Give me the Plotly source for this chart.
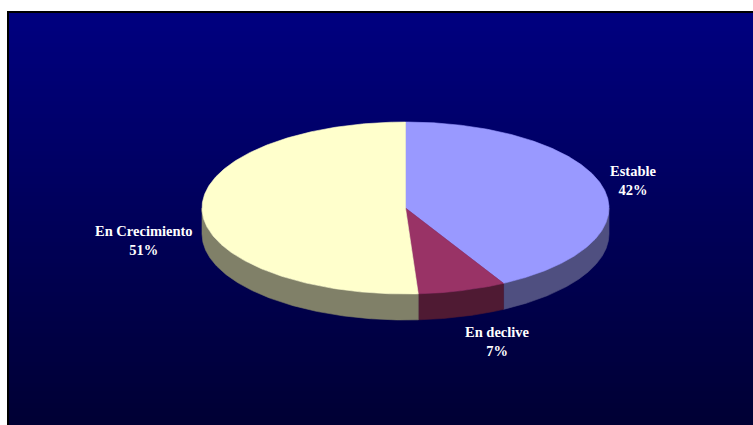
import numpy as np
import plotly.graph_objects as go

# Data
categories = ["Estable", "En declive", "En Crecimiento"]
values = [42, 7, 51]
top_colors = ["#9999FF", "#993366", "#FFFFCC"]
side_colors = ["#4F4F80", "#4F1A33", "#808068"]

# Canvas geometry (pixel-like data coordinates, y grows downward)
W, H = 753, 425
cx, cy = 405.5, 208.0     # centre of the top face
rx, ry = 203.5, 86.0      # ellipse radii of the tilted disc
depth = 26.0              # thickness of the disc

label_pos = {
    "Estable": (633, 180),
    "En declive": (497, 341),
    "En Crecimiento": (144, 240),
}

fig = go.Figure()

# Vertical navy gradient behind the chart
x0, y0 = 8, 12
n_rows = 100
y_edges = np.linspace(y0, H + 1, n_rows + 1)
z = np.linspace(0, 1, n_rows).reshape(-1, 1).repeat(2, axis=1)
fig.add_trace(go.Heatmap(
    x=[x0, (x0 + W) / 2, W + 1], y=y_edges, z=z,
    colorscale=[[0, "rgb(0,0,128)"], [1, "rgb(0,0,52)"]],
    showscale=False, hoverinfo="skip", zsmooth="fast",
))

total = sum(values)
fracs = [v / total for v in values]
bounds = np.concatenate([[0.0], np.cumsum(fracs)]) * 360.0  # clockwise from 12 o'clock


def ell(theta_deg, dy=0.0):
    t = np.radians(theta_deg)
    return cx + rx * np.sin(t), cy - ry * np.cos(t) + dy


# Outer walls (only the front half, 90..270 degrees, is visible)
for i, cat in enumerate(categories):
    a, b = bounds[i], bounds[i + 1]
    lo, hi = max(a, 90.0), min(b, 270.0)
    if hi <= lo:
        continue
    th = np.linspace(lo, hi, 200)
    xt, yt = ell(th)
    xb, yb = ell(th[::-1], depth)
    fig.add_trace(go.Scatter(
        x=np.concatenate([xt, xb, xt[:1]]),
        y=np.concatenate([yt, yb, yt[:1]]),
        mode="lines", fill="toself", fillcolor=side_colors[i],
        line=dict(color=side_colors[i], width=0.6),
        hoverinfo="skip", showlegend=False,
    ))

# Top faces
for i, cat in enumerate(categories):
    a, b = bounds[i], bounds[i + 1]
    th = np.linspace(a, b, 300)
    xs, ys = ell(th)
    fig.add_trace(go.Scatter(
        x=np.concatenate([[cx], xs, [cx]]),
        y=np.concatenate([[cy], ys, [cy]]),
        mode="lines", fill="toself", fillcolor=top_colors[i],
        line=dict(color=top_colors[i], width=0.6),
        hoverinfo="skip", showlegend=False,
    ))

# Labels with category and share
annotations = []
for i, cat in enumerate(categories):
    lx, ly = label_pos[cat]
    annotations.append(dict(
        x=lx, y=ly, xref="x", yref="y",
        text=f"<b>{cat}<br>{round(fracs[i] * 100)}%</b>",
        showarrow=False, align="center",
        font=dict(family="Liberation Serif, Times New Roman, serif", size=14.5, color="white"),
    ))

# Dark frame edge on the top and left of the panel
shapes = [dict(
    type="rect", xref="x", yref="y", layer="above",
    x0=x0, x1=W + 3, y0=y0, y1=H + 3,
    fillcolor="rgba(0,0,0,0)", line=dict(color="black", width=2),
)]

fig.update_layout(
    width=W, height=H,
    margin=dict(l=0, r=0, t=0, b=0),
    paper_bgcolor="white", plot_bgcolor="white",
    xaxis=dict(range=[0, W], visible=False, fixedrange=True),
    yaxis=dict(range=[H, 0], visible=False, fixedrange=True),
    shapes=shapes, annotations=annotations,
    showlegend=False,
)

fig.write_html("out.html")
